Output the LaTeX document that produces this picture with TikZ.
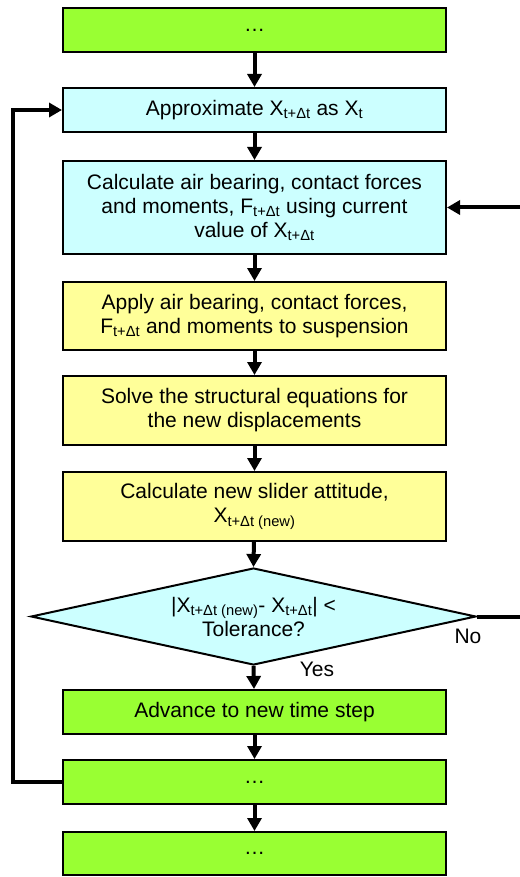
\documentclass[tikz,border=0pt]{standalone}
\usepackage{fontspec}
\setmainfont{Liberation Sans}
\usetikzlibrary{arrows.meta,shapes.geometric}
\definecolor{stepgreen}{RGB}{153,255,51}
\definecolor{stepcyan}{RGB}{204,255,255}
\definecolor{stepyellow}{RGB}{255,255,153}
\newcommand{\tsub}[1]{\textsubscript{#1}}
\begin{document}
\begin{tikzpicture}[
   x=1pt, y=-1pt,
   font=\fontsize{21}{24}\selectfont,
   box/.style={rectangle, draw, line width=2pt, minimum width=383pt, minimum height=44pt, inner sep=2pt, align=center},
   decision/.style={diamond, aspect=4.5, draw, line width=2pt, fill=stepcyan, minimum width=445pt, minimum height=97pt, inner sep=0pt, align=center},
   arrow/.style={-{Triangle[width=14pt,length=13pt]}, line width=4pt}
]
\useasboundingbox (0,0) rectangle (519,877);
% Main column
\node[box, fill=stepgreen] (start) at (254.5,30) {…};
\node[box, fill=stepcyan] (approx) at (254.5,110) {Approximate X\tsub{t+Δt} as X\tsub{t}};
\node[box, fill=stepcyan, minimum height=93pt] (forces) at (254.5,207.5) {Calculate air bearing, contact forces\\ and moments, F\tsub{t+Δt} using current\\ value of X\tsub{t+Δt}};
\node[box, fill=stepyellow, minimum height=68pt] (apply) at (254.5,316) {Apply air bearing, contact forces,\\ F\tsub{t+Δt} and moments to suspension};
\node[box, fill=stepyellow, minimum height=69pt] (solve) at (254.5,410.5) {Solve the structural equations for\\ the new displacements};
\node[box, fill=stepyellow, minimum height=69pt] (attitude) at (254.5,506.5) {Calculate new slider attitude,\\ X\tsub{t+Δt (new)}};
\node[decision] (check) at (253.5,616.5) {|X\tsub{t+Δt (new)}- X\tsub{t+Δt}| <\\ Tolerance?};
\node[box, fill=stepgreen] (advance) at (254.5,712) {Advance to new time step};
\node[box, fill=stepgreen] (next) at (254.5,782) {…};
\node[box, fill=stepgreen, minimum height=43pt] (last) at (254.5,853.5) {…};
\draw[arrow] (start) -- (approx);
\draw[arrow] (approx) -- (forces);
\draw[arrow] (forces) -- (apply);
\draw[arrow] (apply) -- (solve);
\draw[arrow] (solve) -- (attitude);
\draw[arrow] (attitude) -- (check.north);
\draw[arrow] (check.south) -- (advance);
\draw[arrow] (advance) -- (next);
\draw[arrow] (next) -- (last);

% Loops
\node (yes) at (317,669) {Yes};
\node (no) at (468,636) {No};
\draw[arrow] (check.east) -- ++(60,0) |- (forces.east);
\draw[arrow] (next.west) -- ++(-49,0) |- (approx.west);

\end{tikzpicture}
\end{document}
